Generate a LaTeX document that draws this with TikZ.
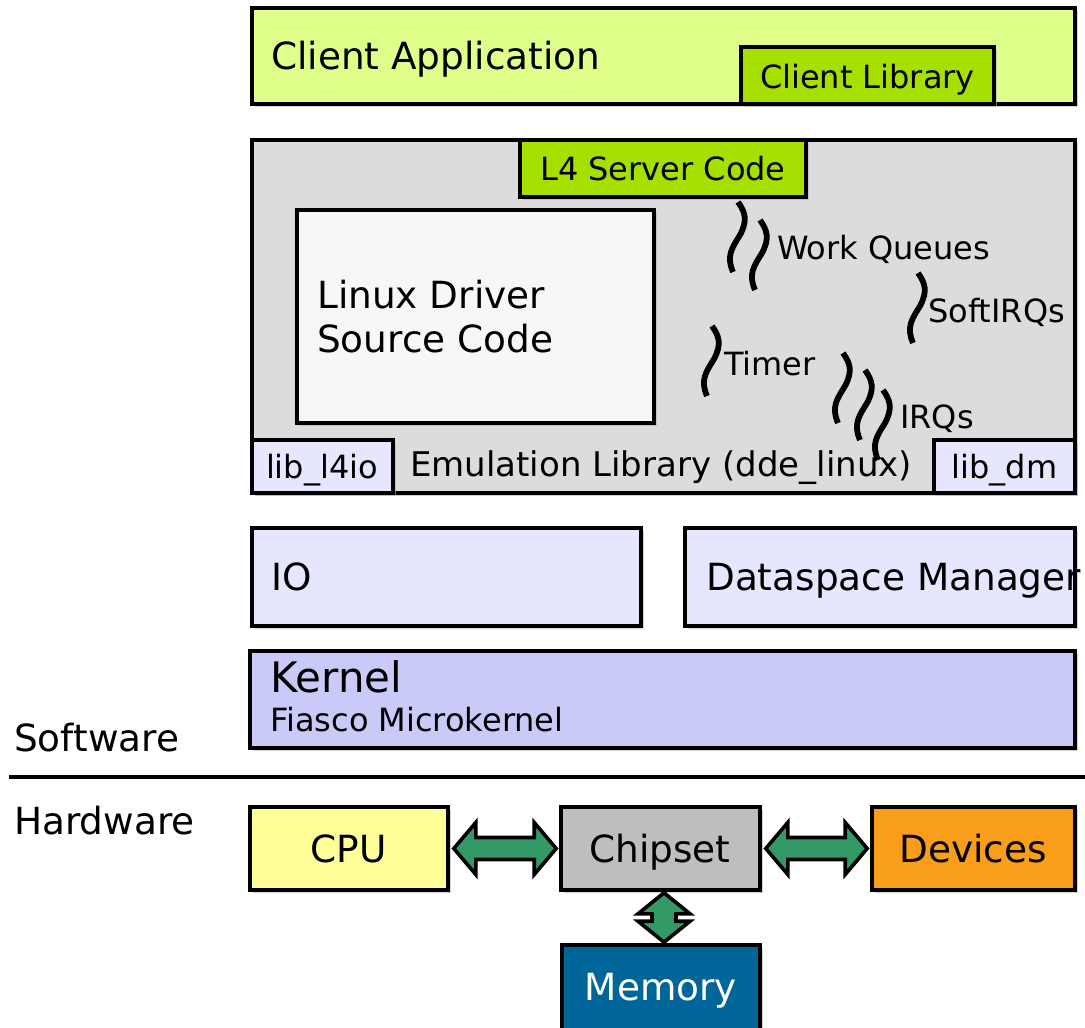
\documentclass[tikz,border=0pt]{standalone}
\usepackage{fontspec}
\setmainfont{DejaVu Sans}
\usetikzlibrary{calc,shadows}
\definecolor{capp}{HTML}{DFFF8A}
\definecolor{cgreen}{HTML}{A6E000}
\definecolor{cgray}{HTML}{DCDCDC}
\definecolor{cwhite}{HTML}{F7F7F7}
\definecolor{clav}{HTML}{E6E6FF}
\definecolor{ckern}{HTML}{CACAF8}
\definecolor{ccpu}{HTML}{FFFF99}
\definecolor{cchip}{HTML}{BEBEBE}
\definecolor{cdev}{HTML}{F89E1A}
\definecolor{cmem}{HTML}{006699}
\definecolor{carrow}{HTML}{339966}
\newcommand\bx[7]{\node[box,fill=#6,minimum width={(#4)-(#2)},minimum height={(#5)-(#3)}] (#1) at ({((#2)+(#4))/2},{((#3)+(#5))/2}) {#7};}
\begin{document}
\begin{tikzpicture}[x=1pt,y=-1pt,
  box/.style={draw=black,line width=3.6pt,rectangle,inner sep=0pt,
    drop shadow={shadow xshift=2.5pt,shadow yshift=-2.5pt,fill=black!30,opacity=0.6}},
  fbig/.style={font=\fontsize{37.4}{44}\selectfont},
  fsmall/.style={font=\fontsize{32}{38}\selectfont},
  fkern/.style={font=\fontsize{42}{48}\selectfont},
  femu/.style={font=\fontsize{34}{40}\selectfont},
  lbl/.style={anchor=base west,inner sep=0pt},
  squig/.pic={\draw[line width=5.8pt] (0,0) .. controls (7,10) and (10,18) .. (2,33) .. controls (-6,46) and (-12,54) .. (-5,70);},
  dbl/.style={draw=black,line width=3.6pt,fill=carrow,line join=miter}]
\path[use as bounding box] (0,0) rectangle (1085,1028);

% client application
\bx{capp}{252}{8}{1075}{104}{capp}{}
\node[lbl,fbig] (captxt) at (271,69) {Client Application};
\bx{clib}{741}{47}{994}{104}{cgreen}{}
\node[fsmall,anchor=base,inner sep=0pt] (clibtxt) at (867.5,88) {Client Library};

% emulation library
\bx{emu}{252}{140}{1075}{493}{cgray}{}
\bx{l4s}{520}{140}{806}{197}{cgreen}{}
\node[fsmall,anchor=base,inner sep=0pt] (l4stxt) at (663,180) {L4 Server Code};
\bx{ldrv}{297}{210}{654}{423}{cwhite}{}
\node[lbl,fbig,align=left] (ldrvtxt1) at (317,308) {Linux Driver};
\node[lbl,fbig,align=left] (ldrvtxt2) at (317,352) {Source Code};
\bx{l4io}{252}{440}{393}{493}{clav}{}
\node[fsmall,anchor=base,inner sep=0pt] (l4iotxt) at (322,478) {lib\_l4io};
\bx{ldm}{934}{440}{1075}{493}{clav}{}
\node[fsmall,anchor=base,inner sep=0pt] (ldmtxt) at (1004.5,478) {lib\_dm};
\node[lbl,femu] (emutxt) at (410,476) {Emulation Library (dde\_linux)};

% threads
\pic at (738,202) {squig};
\pic at (760,220) {squig};
\node[lbl,fsmall] (wq) at (777,259) {Work Queues};
\pic at (918,273) {squig};
\node[lbl,fsmall] (sirq) at (928,322) {SoftIRQs};
\pic at (712,326) {squig};
\node[lbl,fsmall] (tmr) at (724,375) {Timer};
\pic at (843,353) {squig};
\pic at (865,370) {squig};
\pic at (883,390) {squig};
\node[lbl,fsmall] (irq) at (900,428) {IRQs};

% IO / DM
\bx{io}{252}{528}{641}{626}{clav}{}
\node[lbl,fbig] (iotxt) at (271,590) {IO};
\bx{dm}{685}{528}{1075}{626}{clav}{}
\node[lbl,fbig] (dmtxt) at (706,590) {Dataspace Manager};

% kernel
\bx{kern}{250}{651}{1075}{748}{ckern}{}
\node[lbl,fkern] (kerntxt) at (270,692) {Kernel};
\node[lbl,fsmall] (fiasco) at (270,731) {Fiasco Microkernel};

% separator
\node[lbl,fbig] (sw) at (14,751) {Software};
\node[lbl,fbig] (hw) at (14,834) {Hardware};
\coordinate (sepL) at (9,777);
\coordinate (sepR) at (1085,777);
\draw[line width=3.4pt] (sepL) -- (sepR);

% hardware
\bx{cpu}{250}{807}{448}{890}{ccpu}{}
\node[fbig,anchor=base,inner sep=0pt] (cputxt) at (348.5,862) {CPU};
\bx{chip}{561}{807}{760}{890}{cchip}{}
\node[fbig,anchor=base,inner sep=0pt] (chiptxt) at (660,862) {Chipset};
\bx{dev}{872}{807}{1075}{890}{cdev}{}
\node[fbig,anchor=base,inner sep=0pt] (devtxt) at (973,862) {Devices};
\bx{mem}{562}{945}{760}{1040}{cmem}{}
\node[fbig,anchor=base,inner sep=0pt,text=white] (memtxt) at (661,1000) {Memory};

% arrows
\draw[dbl] let \p1=($(cpu.east)+(4,0)$), \p2=($(chip.west)+(-3,0)$) in
  (\x1,\y1) -- (\x1+22pt,\y1+26pt) -- (\x1+22pt,\y1+11pt) -- (\x2-22pt,\y1+11pt) -- (\x2-22pt,\y1+26pt) -- (\x2,\y1)
  -- (\x2-22pt,\y1-26pt) -- (\x2-22pt,\y1-11pt) -- (\x1+22pt,\y1-11pt) -- (\x1+22pt,\y1-26pt) -- cycle;
\draw[dbl] let \p1=($(chip.east)+(4,0)$), \p2=($(dev.west)+(-3,0)$) in
  (\x1,\y1) -- (\x1+22pt,\y1+26pt) -- (\x1+22pt,\y1+11pt) -- (\x2-22pt,\y1+11pt) -- (\x2-22pt,\y1+26pt) -- (\x2,\y1)
  -- (\x2-22pt,\y1-26pt) -- (\x2-22pt,\y1-11pt) -- (\x1+22pt,\y1-11pt) -- (\x1+22pt,\y1-26pt) -- cycle;
\draw[dbl] let \p1=($(chip.south)+(3.5,1)$), \p2=($(mem.north)+(3.5,-1)$) in
  (\x1,\y1) -- (\x1+26pt,\y1-21pt) -- (\x1+12pt,\y1-21pt) -- (\x1+12pt,\y2+21pt) -- (\x1+26pt,\y2+21pt) -- (\x1,\y2)
  -- (\x1-26pt,\y2+21pt) -- (\x1-12pt,\y2+21pt) -- (\x1-12pt,\y1-21pt) -- (\x1-26pt,\y1-21pt) -- cycle;
\end{tikzpicture}
\end{document}
